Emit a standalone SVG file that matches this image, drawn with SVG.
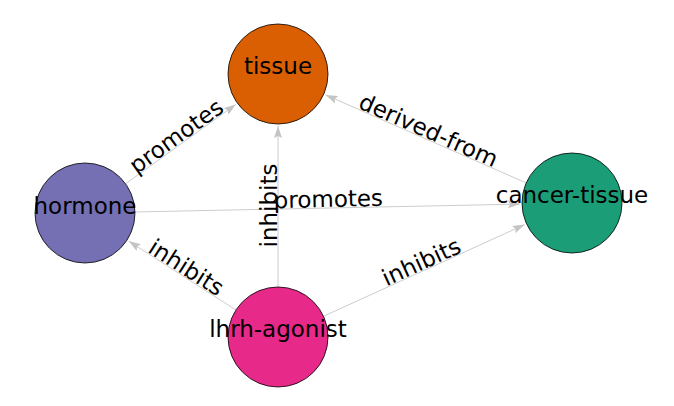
<svg xmlns="http://www.w3.org/2000/svg" width="674" height="406" viewBox="0 0 674 406">
<defs>
<style>
.e{stroke:#cccccc;stroke-width:1;fill:none;marker-end:url(#ah)}
.n{stroke:#000;stroke-width:0.8}
text{font-family:"DejaVu Sans",sans-serif;font-size:23px;fill:#000;text-anchor:middle}
</style>
<marker id="ah" markerUnits="userSpaceOnUse" markerWidth="13" markerHeight="9" refX="12" refY="4" orient="auto">
<path d="M0,0 L12,4 L0,8 L2,4 z" fill="#c4c4c4"/>
</marker>
</defs>
<rect width="674" height="406" fill="#fff"/>
<g id="connectors">
<line class="e" x1="85" y1="213" x2="235.8" y2="104.4"/>
<line class="e" x1="572" y1="203" x2="325.6" y2="94.9"/>
<line class="e" x1="278" y1="337" x2="278" y2="126"/>
<line class="e" x1="85" y1="213" x2="520" y2="204.1"/>
<line class="e" x1="278" y1="337" x2="128.7" y2="241.1"/>
<line class="e" x1="278" y1="337" x2="524.7" y2="224.6"/>
</g>
<g id="nodes">
<g id="node-tissue"><circle class="n" cx="278" cy="74" r="50" fill="#d95f02"/><text x="278" y="74">tissue</text></g>
<g id="node-hormone"><circle class="n" cx="85" cy="213" r="50" fill="#7570b3"/><text x="85" y="214">hormone</text></g>
<g id="node-cancer-tissue"><circle class="n" cx="572" cy="203" r="50" fill="#1b9e77"/><text x="572" y="203">cancer-tissue</text></g>
<g id="node-lhrh-agonist"><circle class="n" cx="278" cy="337" r="50" fill="#e7298a"/><text x="278" y="337">lhrh-agonist</text></g>
</g>
<g id="edge-labels">
<text transform="translate(181.5,143.5) rotate(-35.76)" y="-1">promotes</text>
<text transform="translate(425,138.5) rotate(23.69)" y="-1">derived-from</text>
<text transform="translate(278,205.5) rotate(-90)" y="-1">inhibits</text>
<text transform="translate(328.5,208) rotate(-1.18)" y="-1">promotes</text>
<text transform="translate(181.5,275) rotate(32.72)" y="-1">inhibits</text>
<text transform="translate(425,270) rotate(-24.5)" y="-1">inhibits</text>
</g>
</svg>
